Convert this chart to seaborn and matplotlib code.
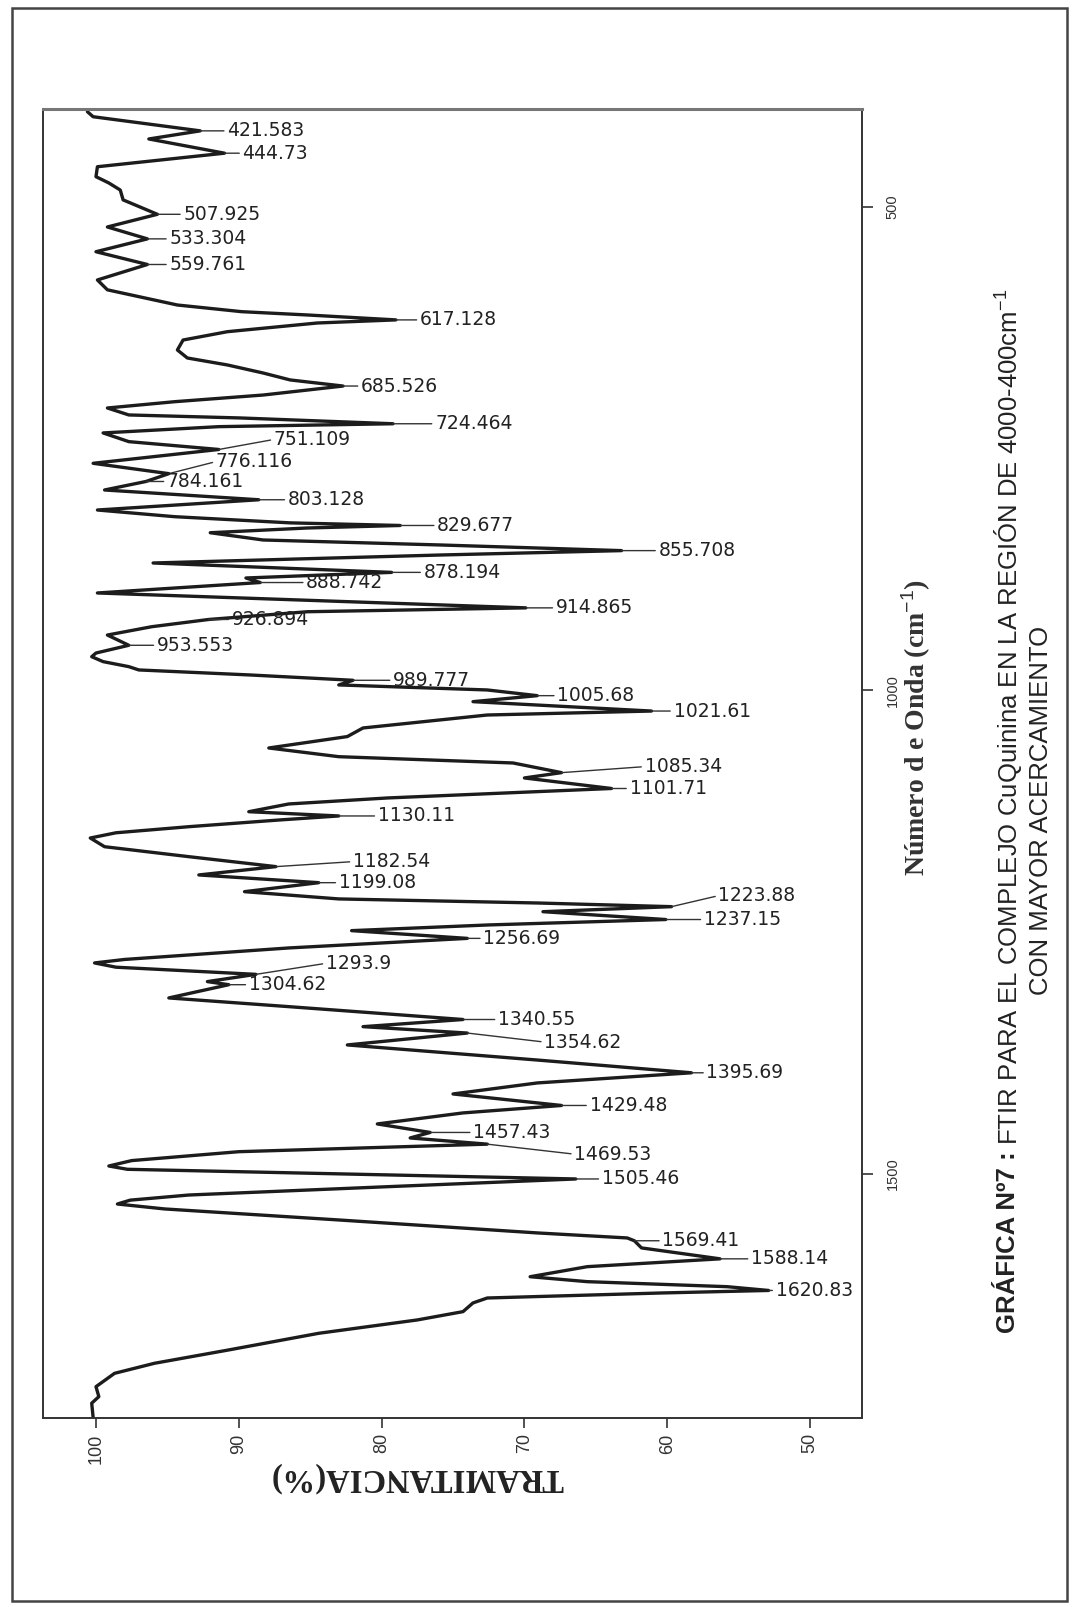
import numpy as np
import pandas as pd
import matplotlib
matplotlib.use("Agg")
import matplotlib.pyplot as plt
from matplotlib.patches import Rectangle
import seaborn as sns

# ---------------- data ----------------
wavenumber = [401.8, 407.0, 421.6, 430.0, 444.7, 458.7, 469.0, 475.5, 482.8, 493.0,
              507.9, 521.0, 533.3, 546.6, 559.8, 575.8, 586.0, 596.5, 601.7, 608.6,
              612.0, 617.1, 620.3, 629.3, 637.9, 648.2, 656.5, 663.7, 672.0, 679.2,
              685.5, 694.8, 701.7, 708.2, 715.4, 718.5, 724.5, 727.5, 734.0, 743.0,
              751.1, 765.4, 776.1, 784.2, 793.0, 803.1, 813.7, 820.6, 827.0, 829.7,
              832.3, 837.2, 844.7, 849.9, 855.7, 860.2, 868.5, 878.2, 884.0, 888.7,
              899.5, 914.9, 918.9, 926.9, 934.4, 943.0, 953.6, 961.6, 965.4, 970.5,
              975.7, 979.1,
              984.3, 989.8, 994.6, 999.8, 1005.7, 1011.9, 1021.6, 1025.7, 1039.1, 1048.0,
              1059.8, 1068.8, 1075.3, 1085.3, 1090.8, 1101.7, 1111.5, 1117.7, 1125.7, 1130.1,
              1134.3, 1141.2, 1147.5, 1152.9, 1161.9, 1172.2, 1182.5, 1191.1, 1199.1, 1208.4,
              1215.9,
              1220.1, 1223.9, 1229.1, 1237.2, 1242.8, 1248.7, 1256.7, 1266.6, 1278.5, 1282.1,
              1286.5, 1293.9,
              1301.4, 1304.6, 1318.3, 1327.3, 1340.6, 1348.0, 1354.6, 1366.9, 1382.5, 1395.7,
              1406.2, 1417.6, 1429.5, 1437.2, 1448.6, 1457.4, 1463.1, 1469.5, 1477.3, 1486.5,
              1492.1, 1495.5, 1498.0, 1505.5, 1513.5, 1522.1, 1527.4, 1531.4, 1536.5, 1547.9,
              1561.3, 1566.5,
              1569.4, 1576.8, 1588.1, 1596.2, 1606.6, 1611.7, 1616.9, 1620.8, 1623.4, 1628.6,
              1633.7, 1642.7, 1651.3, 1665.1, 1682.3, 1696.1, 1706.5, 1720.3, 1730.6, 1737.4,
              1752.0]
transmittance = [100.6, 100.2, 92.7, 96.3, 91.0, 99.9, 100.0, 99.1, 98.3, 98.1,
                 95.7, 99.2, 96.4, 100.0, 96.4, 99.9, 99.2, 95.9, 94.3, 89.8,
                 85.2, 79.0, 84.5, 90.8, 93.9, 94.3, 93.6, 90.8, 88.3, 86.4,
                 82.7, 88.3, 94.5, 99.2, 97.7, 89.9, 79.2, 91.4, 99.5, 97.7,
                 91.4, 100.2, 94.9, 96.5, 99.4, 88.6, 99.9, 94.5, 86.4, 78.7,
                 85.2, 92.0, 88.3, 75.8, 63.2, 75.8, 96.0, 79.3, 89.5, 88.5,
                 99.9, 69.9, 85.2, 92.1, 96.1, 99.2, 97.7, 100.0, 100.3, 99.5,
                 97.7, 97.0,
                 89.2, 82.0, 83.0, 72.6, 69.1, 73.6, 61.1, 72.6, 81.3, 82.4,
                 87.9, 83.0, 70.8, 67.4, 70.0, 63.9, 79.6, 86.5, 89.3, 83.0,
                 87.2, 93.5, 98.6, 100.4, 99.4, 93.5, 87.4, 92.8, 84.4, 89.6,
                 83.0,
                 69.1, 59.7, 68.7, 60.1, 72.5, 82.1, 74.0, 86.5, 98.0, 100.1,
                 98.6, 88.8,
                 92.2, 90.7, 94.9, 86.5, 74.3, 81.3, 74.0, 82.4, 69.1, 58.3,
                 69.1, 75.0, 67.4, 74.3, 80.3, 76.6, 78.0, 72.6, 90.0, 97.5,
                 99.1, 97.8, 90.0, 66.4, 79.6, 93.5, 97.6, 98.5, 95.2, 83.0,
                 69.1, 62.8,
                 62.3, 61.8, 56.3, 65.6, 69.6, 65.6, 55.8, 52.9, 60.4, 72.6,
                 73.6, 74.3, 77.5, 84.4, 90.7, 95.9, 98.7, 100.0, 99.8, 100.3,
                 100.2]

peak_labels = ["421.583", "444.73", "507.925", "533.304", "559.761", "617.128",
               "685.526", "724.464", "751.109", "776.116", "784.161", "803.128",
               "829.677", "855.708", "878.194", "888.742", "914.865", "926.894",
               "953.553", "989.777", "1005.68", "1021.61", "1085.34", "1101.71",
               "1130.11", "1182.54", "1199.08", "1223.88", "1237.15", "1256.69",
               "1293.9", "1304.62", "1340.55", "1354.62", "1395.69", "1429.48",
               "1457.43", "1469.53", "1505.46", "1569.41", "1588.14", "1620.83"]
peak_wn = [421.6, 444.7, 507.9, 533.3, 559.8, 617.1, 685.5, 724.5, 751.1, 776.1,
           784.2, 803.1, 829.7, 855.7, 878.2, 888.7, 914.9, 926.9, 953.6, 989.8,
           1005.7, 1021.6, 1085.3, 1101.7, 1130.1, 1182.5, 1199.1, 1223.9, 1237.2, 1256.7,
           1293.9, 1304.6, 1340.6, 1354.6, 1395.7, 1429.5, 1457.4, 1469.5, 1505.5, 1569.4,
           1588.1, 1620.8]
peak_t = [92.7, 91.0, 95.7, 96.4, 96.4, 79.0, 82.7, 79.2, 91.4, 94.9,
          96.5, 88.6, 78.7, 63.2, 79.3, 88.5, 69.9, 92.1, 97.7, 82.0,
          69.1, 61.1, 67.4, 63.9, 83.0, 87.4, 84.4, 59.7, 60.1, 74.0,
          88.8, 90.7, 74.3, 74.0, 58.3, 67.4, 76.6, 72.6, 66.4, 62.3,
          56.3, 52.9]

x_ticks = [100, 90, 80, 70, 60, 50]
y_ticks = [500, 1000, 1500]

# label placement (pixel offsets of the label start from the peak, y downward)
label_offsets = [(27, 0), (18, 0), (26, 0), (22, 0), (22, 0), (24, 0),
                 (18, 0), (42, 0), (55, -10), (47, -12), (21, 0), (29, 0),
                 (37, 0), (37, 0), (32, 0), (46, 0), (30, 0), (23, 0),
                 (28, 0), (40, 0), (20, 0), (22, 0), (83, -6), (18, 0),
                 (39, 0), (77, -5), (20, 0), (47, -11), (38, 0), (16, 0),
                 (70, -11), (20, 0), (35, 0), (77, 9), (15, 0), (28, 0),
                 (43, 0), (87, 10), (26, 0), (28, 0), (31, 0), (7, 0)]

# ---------------- style ----------------
sns.set_style("white")
plt.rcParams["font.family"] = ["Liberation Sans", "DejaVu Sans"]
plt.rcParams["mathtext.fontset"] = "custom"
plt.rcParams["mathtext.rm"] = "Liberation Sans"
plt.rcParams["mathtext.bf"] = "Liberation Sans:bold"
plt.rcParams["mathtext.it"] = "Liberation Sans:italic"

W, H = 1076, 1607
fig = plt.figure(figsize=(W / 100, H / 100), dpi=100)
fig.patch.set_facecolor("white")

ax_l, ax_r, ax_t, ax_b = 43, 862, 109, 1418
ax = fig.add_axes([ax_l / W, 1 - ax_b / H, (ax_r - ax_l) / W, (ax_b - ax_t) / H])

df = pd.DataFrame({"T": transmittance, "wn": wavenumber})
sns.lineplot(data=df, x="T", y="wn", sort=False, estimator=None,
             color="#1c1c1c", linewidth=2.4, ax=ax)
ax.lines[0].set_solid_joinstyle("round")

ax.set_xlim(103.71, 46.36)
ax.set_ylim(1752.7, 399.0)
ax.set_xlabel("")
ax.set_ylabel("")

for s in ax.spines.values():
    s.set_visible(True)
    s.set_color("#333333")
    s.set_linewidth(1.4)
ax.spines["top"].set_color("#777777")
ax.spines["top"].set_linewidth(2.2)

ax.set_xticks(x_ticks)
ax.set_xticklabels([str(v) for v in x_ticks], rotation=90, fontsize=13,
                   family="Liberation Sans")
ax.yaxis.tick_right()
ax.set_yticks(y_ticks)
ax.set_yticklabels([str(v) for v in y_ticks], rotation=90, fontsize=10.5,
                   family="Liberation Sans", va="center")
ax.tick_params(axis="x", direction="out", length=7, width=1.2, pad=4,
               bottom=True, top=False, colors="#333333")
ax.tick_params(axis="y", direction="out", length=8, width=1.2, pad=9,
               right=True, left=False, colors="#333333")

# peak annotations
for lbl, w, t, (dx, dy) in zip(peak_labels, peak_wn, peak_t, label_offsets):
    ax.annotate(lbl, xy=(t, w), xytext=(dx, -dy), textcoords="offset pixels",
                ha="left", va="center", fontsize=13.5, family="DejaVu Sans",
                color="#222222",
                arrowprops=dict(arrowstyle="-", lw=1.0, color="#333333",
                                shrinkA=0, shrinkB=0, relpos=(0, 0.5)))

# axis titles (rotated page)
fig.text(417 / W, 1 - 1477 / H, "TRAMITANCIA(%)", rotation=180, ha="center",
         va="center", fontsize=23.5, fontweight="bold", family="Liberation Serif",
         color="#222222")
fig.text(916 / W, 1 - 728 / H, "Número d e Onda (cm$^{-1}$)", rotation=90,
         ha="center", va="center", fontsize=20, fontweight="bold",
         family="Liberation Serif", color="#333333")

# chart caption (two lines, first part bold)
renderer = fig.canvas.get_renderer()
t1 = fig.text(1008 / W, 1 - 1333 / H, "GRÁFICA Nº7 :", rotation=90, ha="center",
              va="bottom", fontsize=18.5, fontweight="bold", color="#222222")
bb = t1.get_window_extent(renderer)
fig.text(1008 / W, (bb.y1 + 6) / H,
         "FTIR PARA EL COMPLEJO CuQuinina EN LA REGIÓN DE 4000-400cm$^{-1}$",
         rotation=90, ha="center", va="bottom", fontsize=18.5, color="#222222")
fig.text(1041 / W, 1 - 810 / H, "CON MAYOR ACERCAMIENTO", rotation=90,
         ha="center", va="center", fontsize=18.5, color="#222222")

# page border
fig.add_artist(Rectangle((12 / W, 1 - 1601 / H), (1067 - 12) / W, (1601 - 8) / H,
                         transform=fig.transFigure, fill=False, lw=1.8,
                         ec="#444444"))

fig.savefig("out.png", dpi=100)
